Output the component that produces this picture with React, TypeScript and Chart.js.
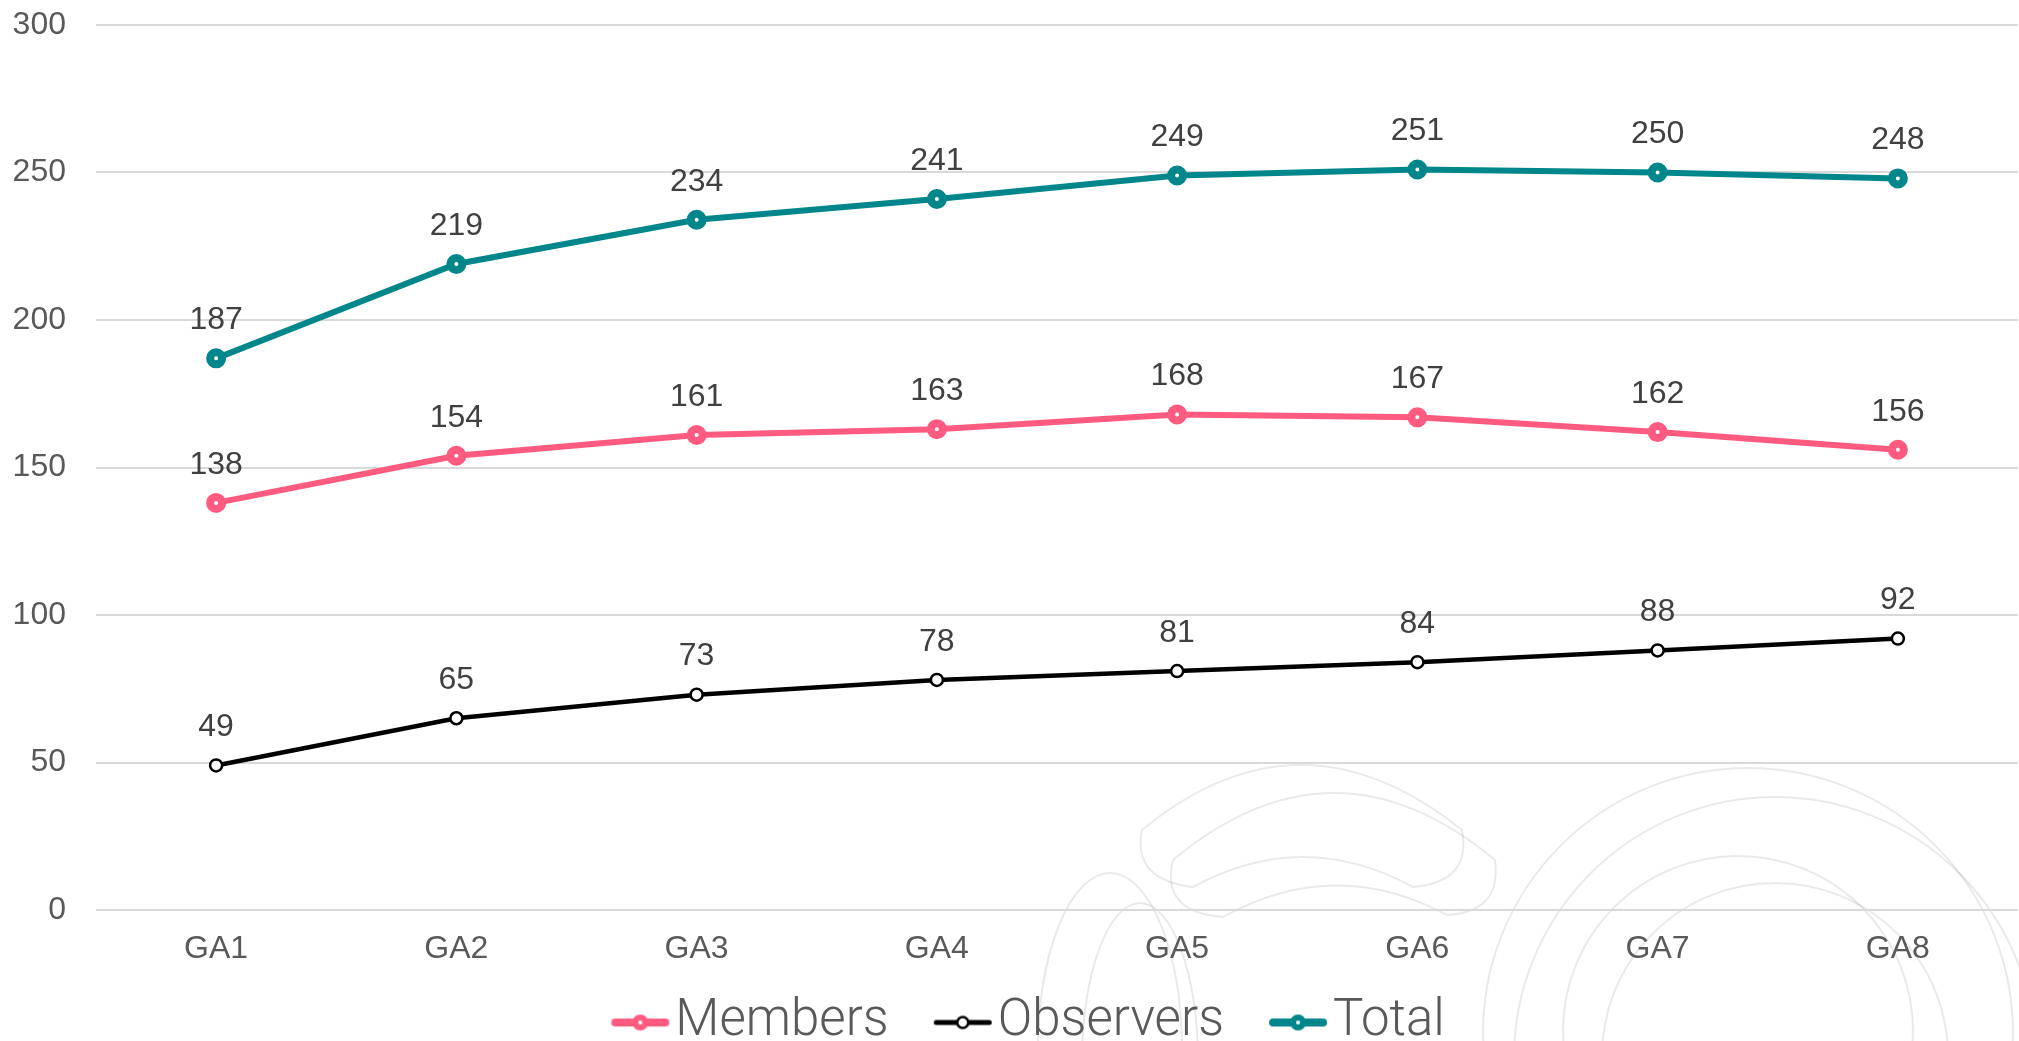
import { useEffect, useRef } from 'react';
import { Chart, registerables } from 'chart.js';

Chart.register(...registerables);

const categories = ['GA1', 'GA2', 'GA3', 'GA4', 'GA5', 'GA6', 'GA7', 'GA8'];
const members = [138, 154, 161, 163, 168, 167, 162, 156];
const observers = [49, 65, 73, 78, 81, 84, 88, 92];
const total = [187, 219, 234, 241, 249, 251, 250, 248];
const yMin = 0;
const yMax = 300;
const yStep = 50;

const PINK = '#FF5B80';
const TEAL = '#00868B';
const BLACK = '#000000';
const TICK_COLOR = '#595959';
const LABEL_COLOR = '#404040';
const FONT = '"Liberation Sans", Arial, Helvetica, sans-serif';

const ICON_IMG_W = 91;

// legend icon: a 60px line-with-marker drawn in the right part of a wider image
function makeLegendIcon(color: string, lineW: number, r: number, bw: number, fill: string) {
  const c = document.createElement('canvas');
  c.width = ICON_IMG_W;
  c.height = 24;
  const g = c.getContext('2d')!;
  const ox = ICON_IMG_W - 60;
  g.strokeStyle = color;
  g.lineWidth = lineW;
  g.lineCap = 'round';
  g.beginPath();
  g.moveTo(ox + lineW / 2 + 1, 12);
  g.lineTo(ox + 60 - lineW / 2 - 1, 12);
  g.stroke();
  g.beginPath();
  g.arc(ox + 30, 12, r, 0, Math.PI * 2);
  g.fillStyle = fill;
  g.fill();
  g.lineWidth = bw;
  g.stroke();
  return c;
}

const dataLabels = {
  id: 'dataLabels',
  afterDatasetsDraw(chart: any) {
    const ctx = chart.ctx;
    ctx.save();
    ctx.font = `32px ${FONT}`;
    ctx.fillStyle = LABEL_COLOR;
    ctx.textAlign = 'center';
    ctx.textBaseline = 'middle';
    chart.data.datasets.forEach((ds: any, i: number) => {
      const meta = chart.getDatasetMeta(i);
      meta.data.forEach((pt: any, j: number) => {
        ctx.fillText(String(ds.data[j]), pt.x, pt.y - 38);
      });
    });
    ctx.restore();
  },
};

const watermark = {
  id: 'watermark',
  beforeDraw(chart: any) {
    const ctx = chart.ctx;
    ctx.save();
    ctx.translate(-8, -8);
    ctx.strokeStyle = 'rgba(0,0,0,0.085)';
    ctx.lineWidth = 2;
    const circles = [
      [1748, 1033, 265],
      [1775, 1058, 261],
      [1738, 1031, 175],
      [1775, 1056, 173],
    ];
    circles.forEach(([x, y, r]) => {
      ctx.beginPath();
      ctx.arc(x, y, r, 0, Math.PI * 2);
      ctx.stroke();
    });
    const ellipses = [
      [1110, 1050, 72, 177],
      [1140, 1062, 58, 159],
    ];
    ellipses.forEach(([x, y, rx, ry]) => {
      ctx.beginPath();
      ctx.ellipse(x, y, rx, ry, 0, 0, Math.PI * 2);
      ctx.stroke();
    });
    ctx.beginPath();
    ctx.moveTo(1142, 830);
    ctx.quadraticCurveTo(1300, 700, 1462, 830);
    ctx.quadraticCurveTo(1472, 882, 1413, 887);
    ctx.quadraticCurveTo(1303, 827, 1193, 887);
    ctx.quadraticCurveTo(1132, 880, 1142, 830);
    ctx.stroke();
    ctx.beginPath();
    ctx.moveTo(1173, 860);
    ctx.quadraticCurveTo(1334, 726, 1495, 860);
    ctx.quadraticCurveTo(1502, 912, 1447, 915);
    ctx.quadraticCurveTo(1335, 855, 1223, 917);
    ctx.quadraticCurveTo(1160, 912, 1173, 860);
    ctx.stroke();
    ctx.restore();
  },
};

export default function App() {
  const ref = useRef<HTMLCanvasElement | null>(null);

  useEffect(() => {
    if (!ref.current) return;
    const icons = [
      makeLegendIcon(PINK, 8, 5, 6, '#ffffff'),
      makeLegendIcon(BLACK, 5, 5.5, 2.5, '#ffffff'),
      makeLegendIcon(TEAL, 8, 5, 6, '#ffffff'),
    ];
    const chart = new Chart(ref.current, {
      type: 'line',
      data: {
        labels: categories,
        datasets: [
          {
            label: 'Members',
            data: members,
            borderColor: PINK,
            backgroundColor: '#ffffff',
            borderWidth: 6,
            pointRadius: 6,
            pointBorderWidth: 8,
            pointBackgroundColor: '#ffffff',
            pointBorderColor: PINK,
            tension: 0,
          },
          {
            label: 'Observers',
            data: observers,
            borderColor: BLACK,
            backgroundColor: '#ffffff',
            borderWidth: 4.5,
            pointRadius: 6,
            pointBorderWidth: 2.5,
            pointBackgroundColor: '#ffffff',
            pointBorderColor: BLACK,
            tension: 0,
          },
          {
            label: 'Total',
            data: total,
            borderColor: TEAL,
            backgroundColor: '#ffffff',
            borderWidth: 6,
            pointRadius: 6,
            pointBorderWidth: 8,
            pointBackgroundColor: '#ffffff',
            pointBorderColor: TEAL,
            tension: 0,
          },
        ],
      },
      options: {
        responsive: false,
        animation: false,
        layout: { padding: { top: 17, left: 4.6, right: 0, bottom: 0 } },
        plugins: {
          tooltip: { enabled: false },
          legend: {
            position: 'bottom',
            labels: {
              usePointStyle: true,
              pointStyleWidth: 50,
              padding: 33.5,
              color: TICK_COLOR,
              font: { family: 'Roboto, "Liberation Sans", sans-serif', size: 51, weight: '300' as any, lineHeight: 1 },
              generateLabels: (c: any) => {
                const items = Chart.defaults.plugins.legend.labels.generateLabels(c);
                return items.map((it: any, i: number) => ({ ...it, pointStyle: icons[i] }));
              },
            },
          } as any,
        },
        scales: {
          x: {
            offset: true,
            grid: { display: false, drawTicks: true, tickLength: 24.9, tickColor: 'rgba(0,0,0,0)' },
            border: { display: false },
            ticks: {
              color: TICK_COLOR,
              padding: 1.5,
              font: { family: FONT, size: 32, lineHeight: 0.8 },
            },
          },
          y: {
            min: yMin,
            max: yMax,
            grid: {
              color: '#d9d9d9',
              lineWidth: 2,
              drawTicks: true,
              tickLength: 30,
              tickColor: 'rgba(0,0,0,0)',
            },
            border: { display: false },
            ticks: {
              stepSize: yStep,
              color: TICK_COLOR,
              padding: 0,
              font: { family: FONT, size: 32, lineHeight: 1.06 },
            },
          },
        },
      },
      plugins: [watermark, dataLabels],
    });
    return () => chart.destroy();
  }, []);

  return (
    <div style={{ position: 'fixed', left: 0, top: 0, width: '100vw', height: '100vh', overflow: 'hidden', background: '#ffffff' }}>
      <div style={{ position: 'absolute', left: 8, top: 8, width: 2024, height: 1050 }}>
        <canvas ref={ref} width={2024} height={1050} style={{ display: 'block' }} />
      </div>
    </div>
  );
}
